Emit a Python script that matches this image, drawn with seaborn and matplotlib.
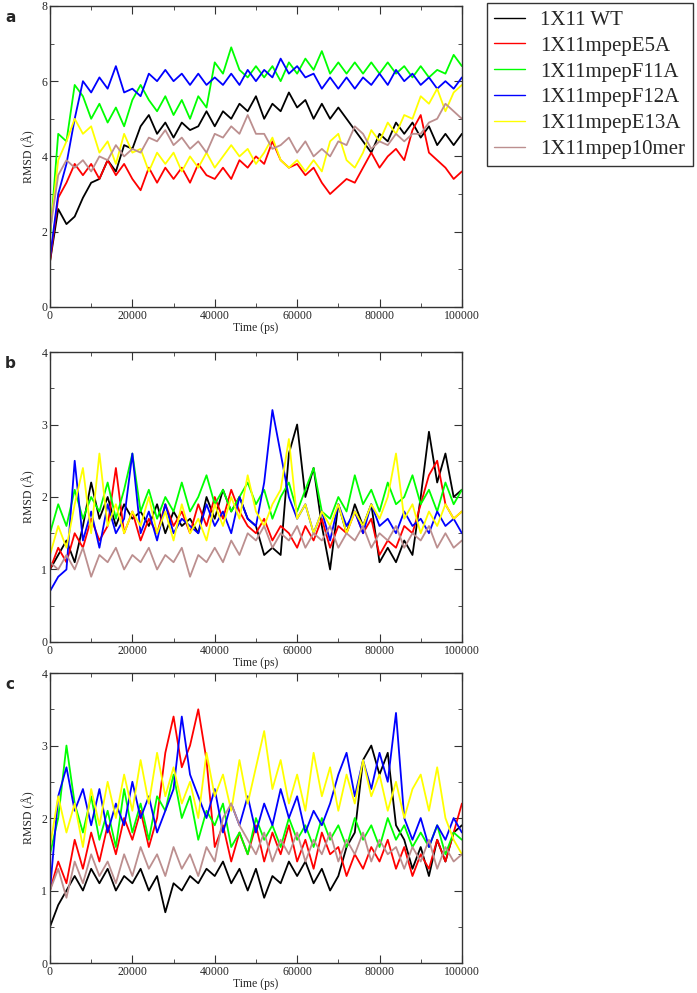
import numpy as np
import pandas as pd
import matplotlib
matplotlib.use("Agg")
import matplotlib.pyplot as plt
from matplotlib.lines import Line2D
from matplotlib.ticker import MultipleLocator
import seaborn as sns

# ---------------------------------------------------
# DATA (RMSD in Angstrom, sampled every 2000 ps)
# ---------------------------------------------------

TIME_PS = np.arange(0, 100001, 2000)

SERIES = ["1X11 WT", "1X11mpepE5A", "1X11mpepF11A",
          "1X11mpepF12A", "1X11mpepE13A", "1X11mpep10mer"]
COLORS = ["#000000", "#ff0000", "#00ff00", "#0000ff", "#ffff00", "#bc8f8f"]

# panel a
a_wt = [1.2, 2.6, 2.2, 2.4, 2.9, 3.3, 3.4, 3.9, 3.6, 4.3, 4.2, 4.8, 5.1, 4.6, 4.9, 4.5, 4.9,
        4.7, 4.8, 5.2, 4.8, 5.2, 5.0, 5.4, 5.2, 5.6, 5.0, 5.4, 5.2, 5.7, 5.3, 5.5, 5.0, 5.4,
        5.0, 5.3, 5.0, 4.7, 4.4, 4.1, 4.6, 4.4, 4.9, 4.6, 4.9, 4.5, 4.8, 4.3, 4.6, 4.3, 4.6]
a_e5a = [1.2, 2.9, 3.3, 3.8, 3.5, 3.8, 3.4, 3.9, 3.5, 3.8, 3.4, 3.1, 3.7, 3.3, 3.7, 3.4, 3.7,
         3.3, 3.8, 3.5, 3.4, 3.7, 3.4, 3.9, 3.7, 4.0, 3.8, 4.4, 3.9, 3.7, 3.8, 3.5, 3.7, 3.3,
         3.0, 3.2, 3.4, 3.3, 3.7, 4.1, 3.7, 4.0, 4.2, 3.9, 4.7, 5.1, 4.1, 3.9, 3.7, 3.4, 3.6]
a_f11a = [1.8, 4.6, 4.4, 5.9, 5.6, 5.0, 5.4, 4.9, 5.3, 4.8, 5.5, 5.9, 5.5, 5.2, 5.6, 5.1, 5.5,
          5.0, 5.6, 5.3, 6.5, 6.2, 6.9, 6.3, 6.1, 6.4, 6.1, 6.4, 6.0, 6.5, 6.2, 6.6, 6.3, 6.8,
          6.2, 6.5, 6.2, 6.5, 6.2, 6.5, 6.2, 6.5, 6.2, 6.4, 6.1, 6.4, 6.1, 6.3, 6.2, 6.7, 6.4]
a_f12a = [1.3, 3.0, 3.8, 5.0, 6.0, 5.7, 6.1, 5.8, 6.4, 5.7, 5.8, 5.6, 6.2, 6.0, 6.3, 6.0, 6.2,
          5.9, 6.2, 5.9, 6.1, 5.9, 6.2, 5.9, 6.3, 6.0, 6.3, 6.1, 6.6, 6.2, 6.4, 6.1, 6.2, 5.8,
          6.1, 5.8, 6.1, 5.8, 6.1, 5.9, 6.2, 5.9, 6.3, 6.0, 6.2, 5.9, 6.1, 5.8, 6.0, 5.8, 6.1]
a_e13a = [2.0, 3.9, 4.4, 5.0, 4.6, 4.8, 4.1, 4.4, 3.8, 4.6, 4.1, 4.2, 3.6, 4.1, 3.8, 4.1, 3.6,
          4.0, 3.7, 4.1, 3.7, 4.0, 4.3, 4.0, 4.2, 3.8, 4.1, 4.5, 3.9, 3.7, 3.9, 3.6, 3.9, 3.6,
          4.4, 4.6, 3.9, 3.7, 4.1, 4.7, 4.4, 4.9, 4.6, 5.1, 5.0, 5.6, 5.4, 5.8, 5.2, 5.7, 5.9]
a_10mer = [2.0, 3.5, 3.9, 3.7, 3.9, 3.6, 4.0, 3.9, 4.3, 4.0, 4.2, 4.1, 4.5, 4.4, 4.7, 4.3, 4.5,
           4.2, 4.4, 4.1, 4.6, 4.5, 4.8, 4.6, 5.1, 4.6, 4.6, 4.2, 4.3, 4.5, 4.1, 4.4, 4.0, 4.2,
           4.0, 4.4, 4.3, 4.8, 4.6, 4.2, 4.4, 4.3, 4.6, 4.4, 4.6, 4.6, 4.9, 5.0, 5.4, 5.2, 5.0]

# panel b
b_wt = [1.0, 1.2, 1.4, 1.1, 1.6, 2.2, 1.7, 2.0, 1.6, 1.9, 1.7, 1.8, 1.6, 1.9, 1.5, 1.8, 1.6,
        1.7, 1.5, 2.0, 1.7, 2.1, 1.8, 2.0, 1.7, 1.6, 1.2, 1.3, 1.2, 2.6, 3.0, 2.0, 2.4, 1.6,
        1.0, 1.9, 1.5, 1.9, 1.6, 1.9, 1.1, 1.3, 1.1, 1.4, 1.2, 2.0, 2.9, 2.2, 2.6, 2.0, 2.1]
b_e5a = [1.0, 1.3, 1.1, 1.5, 1.3, 1.7, 1.4, 1.6, 2.4, 1.5, 1.8, 1.4, 1.7, 1.5, 1.9, 1.6, 1.8,
         1.5, 1.9, 1.6, 2.0, 1.7, 2.1, 1.8, 1.6, 1.5, 1.7, 1.4, 1.6, 1.5, 1.3, 1.6, 1.4, 1.7,
         1.3, 1.6, 1.5, 1.8, 1.5, 1.7, 1.2, 1.4, 1.3, 1.6, 1.5, 1.9, 2.3, 2.5, 1.9, 1.7, 1.8]
b_f11a = [1.5, 1.9, 1.6, 2.1, 1.7, 2.0, 1.8, 2.2, 1.7, 2.1, 2.6, 1.8, 2.1, 1.7, 2.0, 1.8, 2.2,
          1.8, 2.0, 2.3, 1.9, 2.1, 1.8, 2.0, 2.2, 1.9, 2.1, 1.7, 2.0, 2.2, 1.8, 2.1, 2.4, 1.8,
          1.7, 2.0, 1.8, 2.3, 1.9, 2.1, 1.8, 2.2, 1.9, 2.0, 2.3, 1.9, 2.1, 1.8, 2.2, 1.9, 2.1]
b_f12a = [0.7, 0.9, 1.0, 2.5, 1.4, 1.8, 1.3, 1.9, 1.5, 1.7, 2.6, 1.5, 1.8, 1.4, 1.9, 1.5, 1.7,
          1.6, 1.5, 1.9, 1.6, 1.8, 1.5, 2.0, 1.7, 1.6, 2.2, 3.2, 2.6, 2.0, 1.7, 1.9, 1.5, 1.8,
          1.4, 1.9, 1.6, 1.8, 1.5, 1.9, 1.6, 1.7, 1.5, 1.8, 1.6, 1.7, 1.5, 1.8, 1.6, 1.7, 1.5]
b_e13a = [1.2, 1.6, 1.3, 1.9, 2.4, 1.5, 2.6, 1.6, 1.9, 1.5, 1.8, 1.6, 2.0, 1.5, 1.8, 1.4, 1.9,
          1.5, 1.7, 1.4, 1.9, 1.6, 2.0, 1.7, 2.3, 1.8, 1.6, 1.9, 2.1, 2.8, 1.7, 1.9, 1.5, 1.8,
          1.6, 1.9, 1.5, 1.8, 1.6, 1.9, 1.7, 2.0, 2.6, 1.7, 1.9, 1.5, 1.8, 1.6, 1.9, 1.7, 1.8]
b_10mer = [1.1, 1.0, 1.2, 1.0, 1.3, 0.9, 1.2, 1.1, 1.3, 1.0, 1.2, 1.1, 1.3, 1.0, 1.2, 1.1, 1.3,
           0.9, 1.2, 1.1, 1.3, 1.1, 1.4, 1.2, 1.5, 1.4, 1.6, 1.3, 1.5, 1.4, 1.6, 1.3, 1.5, 1.4,
           1.6, 1.3, 1.5, 1.4, 1.6, 1.3, 1.5, 1.4, 1.6, 1.3, 1.5, 1.4, 1.6, 1.3, 1.5, 1.3, 1.4]

# panel c
c_wt = [0.5, 0.8, 1.0, 1.2, 1.0, 1.3, 1.1, 1.3, 1.0, 1.2, 1.1, 1.3, 1.0, 1.2, 0.7, 1.1, 1.0,
        1.2, 1.1, 1.3, 1.2, 1.4, 1.1, 1.3, 1.0, 1.3, 0.9, 1.2, 1.1, 1.4, 1.2, 1.4, 1.1, 1.3,
        1.0, 1.2, 1.6, 1.8, 2.8, 3.0, 2.6, 2.9, 1.9, 1.7, 1.3, 1.6, 1.2, 1.7, 1.4, 1.8, 1.9]
c_e5a = [1.0, 1.4, 1.1, 1.7, 1.3, 1.8, 1.4, 1.9, 1.5, 2.0, 1.7, 2.1, 1.6, 2.0, 2.9, 3.4, 2.7,
         3.0, 3.5, 2.8, 1.6, 1.9, 1.4, 1.8, 1.5, 1.9, 1.4, 1.8, 1.5, 1.9, 1.4, 1.7, 1.3, 1.8,
         1.5, 1.6, 1.2, 1.5, 1.3, 1.6, 1.4, 1.7, 1.3, 1.6, 1.2, 1.5, 1.3, 1.7, 1.4, 1.8, 2.2]
c_f11a = [1.5, 2.0, 3.0, 2.2, 1.8, 2.3, 1.7, 2.1, 1.6, 2.4, 1.8, 2.2, 1.7, 2.3, 2.1, 2.6, 2.0,
          2.3, 1.7, 2.1, 1.9, 2.2, 1.6, 1.8, 1.5, 2.0, 1.7, 1.9, 1.6, 2.0, 1.7, 1.9, 1.6, 2.0,
          1.7, 1.9, 1.6, 2.0, 1.7, 1.9, 1.6, 2.0, 1.7, 1.9, 1.6, 1.8, 1.6, 1.9, 1.5, 1.8, 1.7]
c_f12a = [1.0, 2.3, 2.7, 2.1, 2.4, 1.9, 2.4, 1.8, 2.2, 1.9, 2.5, 2.0, 2.3, 1.8, 2.1, 2.4, 3.4,
          2.6, 2.3, 2.0, 2.4, 1.8, 2.2, 1.9, 2.3, 1.8, 2.2, 1.9, 2.4, 2.0, 2.3, 1.8, 2.1, 1.9,
          2.2, 2.6, 2.9, 2.3, 2.8, 2.4, 2.9, 2.5, 3.45, 2.0, 1.7, 2.0, 1.6, 1.9, 1.7, 2.0, 1.8]
c_e13a = [1.6, 2.3, 1.8, 2.2, 1.6, 2.4, 1.9, 2.5, 2.0, 2.6, 2.1, 2.8, 2.2, 2.9, 2.3, 2.7, 2.2,
          2.5, 2.0, 2.9, 2.3, 2.6, 2.1, 2.8, 2.2, 2.7, 3.2, 2.4, 2.8, 2.2, 2.6, 2.1, 2.9, 2.3,
          2.7, 2.1, 2.6, 2.2, 2.8, 2.3, 2.6, 2.1, 2.5, 2.0, 2.4, 2.6, 2.1, 2.7, 2.0, 1.7, 1.5]
c_10mer = [1.0, 1.3, 0.9, 1.4, 1.1, 1.5, 1.2, 1.4, 1.1, 1.5, 1.2, 1.6, 1.3, 1.5, 1.2, 1.6, 1.3,
           1.5, 1.2, 1.6, 1.4, 2.0, 2.2, 1.9, 1.7, 1.5, 1.8, 1.4, 1.7, 1.5, 1.8, 1.4, 1.7, 1.5,
           1.8, 1.4, 1.7, 1.5, 1.8, 1.4, 1.7, 1.5, 1.6, 1.3, 1.6, 1.4, 1.7, 1.3, 1.6, 1.4, 1.5]

PANELS = {
    "a": [a_wt, a_e5a, a_f11a, a_f12a, a_e13a, a_10mer],
    "b": [b_wt, b_e5a, b_f11a, b_f12a, b_e13a, b_10mer],
    "c": [c_wt, c_e5a, c_f11a, c_f12a, c_e13a, c_10mer],
}
YMAX = {"a": 8, "b": 4, "c": 4}

# ---------------------------------------------------
# STYLE
# ---------------------------------------------------

sns.set_style("ticks")
plt.rcParams["font.family"] = ["Liberation Serif", "DejaVu Serif"]
plt.rcParams["axes.linewidth"] = 1.0
plt.rcParams["axes.edgecolor"] = "#333333"

palette = dict(zip(SERIES, COLORS))

fig = plt.figure(figsize=(6.97, 9.93), dpi=100)
positions = {
    "a": [0.0717, 0.691, 0.591, 0.303],
    "b": [0.0717, 0.3535, 0.591, 0.292],
    "c": [0.0717, 0.0302, 0.591, 0.292],
}

for key, values in PANELS.items():
    ax = fig.add_axes(positions[key])
    long = pd.DataFrame({
        "time": np.tile(TIME_PS, len(SERIES)),
        "rmsd": np.concatenate(values),
        "series": np.repeat(SERIES, len(TIME_PS)),
    })
    sns.lineplot(data=long, x="time", y="rmsd", hue="series", hue_order=SERIES,
                 palette=palette, estimator=None, linewidth=1.3, legend=False, ax=ax)

    ax.set_xlim(0, 100000)
    ax.set_ylim(0, YMAX[key])
    ax.xaxis.set_major_locator(MultipleLocator(20000))
    ax.xaxis.set_minor_locator(MultipleLocator(10000))
    ax.yaxis.set_major_locator(MultipleLocator(YMAX[key] / 4))
    ax.yaxis.set_minor_locator(MultipleLocator(YMAX[key] / 8))
    ax.tick_params(which="both", direction="in", top=True, right=True,
                   labelsize=8.5, pad=2, color="#333333")
    ax.tick_params(which="major", length=6)
    ax.tick_params(which="minor", length=3)
    ax.set_xlabel("Time (ps)", fontsize=8.5, labelpad=0)
    ax.set_ylabel("RMSD (Å)", fontsize=8.5, labelpad=4)
    for s in ax.spines.values():
        s.set_visible(True)

    bbox = positions[key]
    fig.text(0.007, bbox[1] + bbox[3] - 0.012, key, fontsize=11, fontweight="bold",
             family="DejaVu Sans", va="center", ha="left")

handles = [Line2D([0], [0], color=c, lw=1.0) for c in COLORS]
leg = fig.legend(handles, SERIES, loc="upper left", bbox_to_anchor=(0.699, 0.997),
                 fontsize=15, frameon=True, fancybox=False, handlelength=1.45,
                 handletextpad=0.75, borderpad=0.35, labelspacing=0.3, borderaxespad=0)
leg.get_frame().set_edgecolor("black")
leg.get_frame().set_linewidth(1.0)

fig.savefig("out.png", dpi=100)
plt.close(fig)
